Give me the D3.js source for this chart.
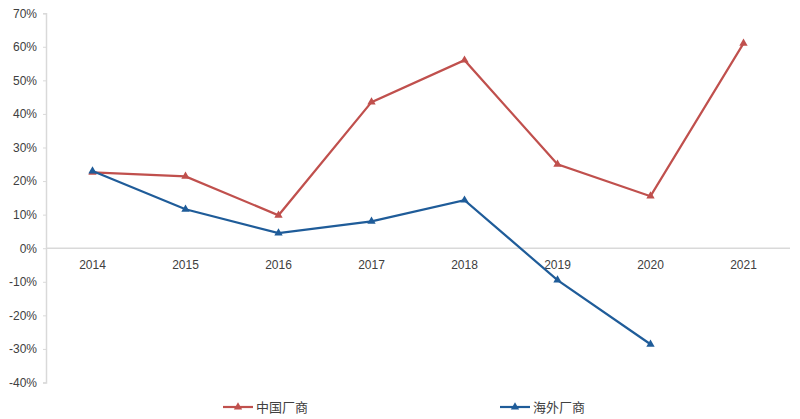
<!DOCTYPE html>
<html><head><meta charset="utf-8">
<script src="https://cdn.jsdelivr.net/npm/d3@7/dist/d3.min.js"></script>
<style>body{margin:0;background:#fff;} svg{display:block;}</style>
</head><body>
<svg id="c" width="800" height="419"></svg>
<script>
const years = ["2014","2015","2016","2017","2018","2019","2020","2021"];
const chinaVals = [22.6, 21.4, 9.8, 43.5, 56.0, 25.0, 15.5, 61.0];
const overseasVals = [23.0, 11.6, 4.5, 8.0, 14.3, -9.5, -28.6, null];
const yTicks = [70,60,50,40,30,20,10,0,-10,-20,-30,-40];
const seriesNames = ["中国厂商","海外厂商"];
const colors = ["#C0504D","#1F5C99"];

const svg = d3.select("#c");
const x = d3.scaleBand().domain(years).range([46,790]);
const y = d3.scaleLinear().domain([-40,70]).range([382.5,13.2]);
const font = "'Liberation Sans', 'DejaVu Sans', sans-serif";

// y axis
const yAxis = svg.append("g").attr("transform","translate(46,0)")
  .call(d3.axisLeft(y).tickValues(yTicks).tickSize(3).tickFormat(d=>d+"%"));
yAxis.select(".domain").attr("stroke","#d9d9d9").attr("stroke-width",1.5);
yAxis.selectAll(".tick line").attr("stroke","#d9d9d9");
yAxis.selectAll(".tick text").attr("font-family",font).attr("font-size",12).attr("fill","#404040").attr("x",-9);

// zero line
svg.append("line").attr("x1",46).attr("x2",790).attr("y1",y(0)).attr("y2",y(0))
  .attr("stroke","#d9d9d9").attr("stroke-width",1.5);

// x labels
svg.append("g").selectAll("text").data(years).join("text")
  .attr("x",d=>x(d)+x.bandwidth()/2).attr("y",y(0)+21)
  .attr("text-anchor","middle").attr("font-family",font).attr("font-size",12).attr("fill","#404040")
  .text(d=>d);

const tri = d3.symbol().type(d3.symbolTriangle).size(30);
[chinaVals, overseasVals].forEach((vals,i)=>{
  const pts = years.map((yr,j)=>({yr, v:vals[j]})).filter(p=>p.v!==null);
  const line = d3.line().x(p=>x(p.yr)+x.bandwidth()/2).y(p=>y(p.v));
  svg.append("path").datum(pts).attr("d",line).attr("fill","none")
    .attr("stroke",colors[i]).attr("stroke-width",2.2);
  svg.append("g").selectAll("path").data(pts).join("path")
    .attr("d",tri).attr("fill",colors[i])
    .attr("transform",p=>`translate(${x(p.yr)+x.bandwidth()/2},${y(p.v)})`);
});

// legend
const legX = [223, 500];
seriesNames.forEach((n,i)=>{
  const g = svg.append("g").attr("transform",`translate(${legX[i]},407)`);
  g.append("line").attr("x1",0).attr("x2",30).attr("stroke",colors[i]).attr("stroke-width",2.2);
  g.append("path").attr("d",tri).attr("fill",colors[i]).attr("transform","translate(15,0)");
  g.append("text").attr("x",33).attr("y",5).attr("font-family","'Noto Sans CJK SC', sans-serif")
    .attr("font-size",13).attr("fill","#404040").text(n);
});
</script>
</body></html>
